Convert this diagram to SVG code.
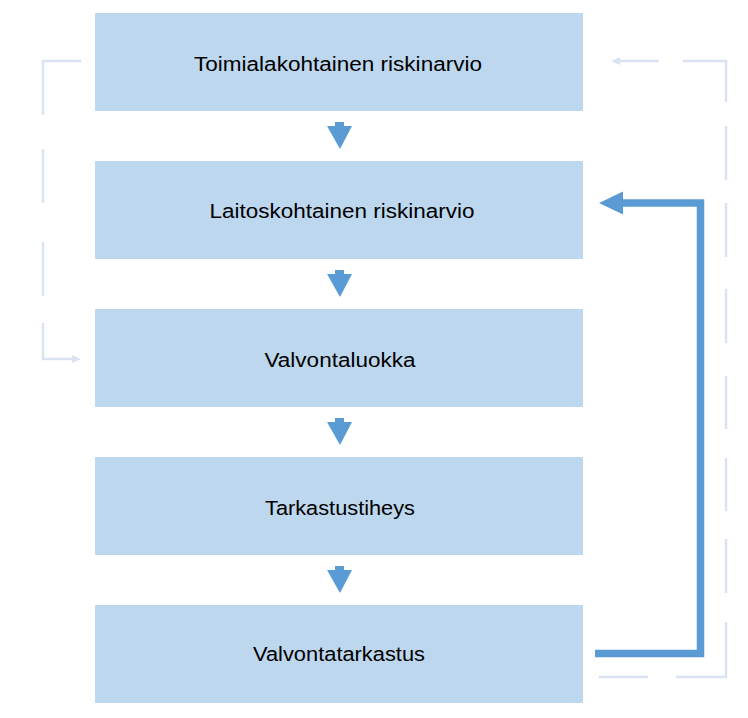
<svg xmlns="http://www.w3.org/2000/svg" width="748" height="718" viewBox="0 0 748 718">
<style>
.box{fill:#bdd7ee}
.lbl{font-family:"Liberation Sans","Open Sans",Arial,sans-serif;font-size:20px;fill:#000;text-anchor:middle}
.dash{fill:none;stroke:#dae3f3;stroke-width:2.5}
.dhead{fill:#dae3f3}
.down{fill:#5b9bd5}
</style>
<rect width="748" height="718" fill="#fff"/>
<g id="node1"><rect class="box" x="95" y="13" width="488" height="98"/><text class="lbl" x="338" y="71" textLength="288" lengthAdjust="spacingAndGlyphs">Toimialakohtainen riskinarvio</text></g>
<g id="node2"><rect class="box" x="95" y="161" width="488" height="98"/><text class="lbl" x="342" y="218" textLength="265" lengthAdjust="spacingAndGlyphs">Laitoskohtainen riskinarvio</text></g>
<g id="node3"><rect class="box" x="95" y="309" width="488" height="98"/><text class="lbl" x="340" y="367" textLength="151" lengthAdjust="spacingAndGlyphs">Valvontaluokka</text></g>
<g id="node4"><rect class="box" x="95" y="457" width="488" height="98"/><text class="lbl" x="340" y="515" textLength="150" lengthAdjust="spacingAndGlyphs">Tarkastustiheys</text></g>
<g id="node5"><rect class="box" x="95" y="605" width="488" height="98"/><text class="lbl" x="339" y="661" textLength="172" lengthAdjust="spacingAndGlyphs">Valvontatarkastus</text></g>
<g id="connectors">
<path class="down" d="M335,122 H344 V126 H352 L340,149 L327,126 H335 Z"/>
<path class="down" d="M335,270 H344 V274 H352 L340,297 L327,274 H335 Z"/>
<path class="down" d="M335,418 H344 V422 H352 L340,445 L327,422 H335 Z"/>
<path class="down" d="M335,566 H344 V570 H352 L340,593 L327,570 H335 Z"/>
<path class="dash" d="M81,61 H43 V115 M43,149 V203 M43,242 V296 M43,323 V359 H73"/>
<path class="dhead" d="M72,355 L81,359 L72,363 Z"/>
<path class="dash" d="M619,61 H659 M683,61 H726 V102 M726,126 V180 M726,203 V257 M726,289 V343 M726,376 V429 M726,458 V511 M726,539 V593 M726,622 V677 H676 M648,677 H599"/>
<path class="dhead" d="M620,57 L611,61 L620,65 Z"/>
<path d="M595,653.5 H700.5 V203 H620" fill="none" stroke="#5b9bd5" stroke-width="7.5"/>
<path d="M623,191.5 L599,203 L623,214.5 Z" fill="#5b9bd5"/>
</g>
</svg>
